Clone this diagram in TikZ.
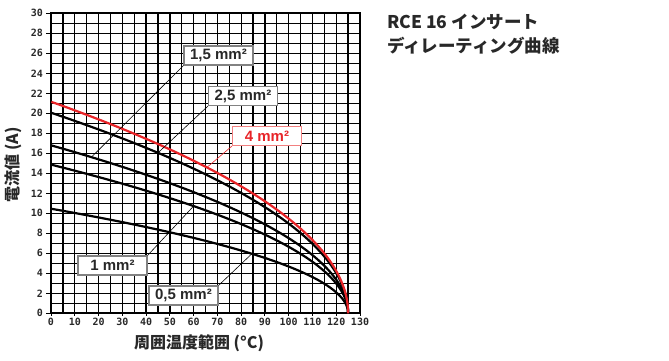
\documentclass[tikz,border=0pt]{standalone}
\usepackage{fontspec}
\setmainfont{Liberation Sans}[BoldFont={Liberation Sans Bold}]
\newfontfamily\jpfont{Noto Sans CJK JP}
\newfontfamily\tickfont{DejaVu Sans Mono}[BoldFont={DejaVu Sans Mono Bold}]
\usetikzlibrary{positioning}
\definecolor{curvered}{RGB}{232,36,40}
\definecolor{boxgray}{RGB}{130,130,130}
\definecolor{boxred}{RGB}{242,128,128}
\definecolor{textgray}{RGB}{40,40,40}
\tikzset{
	gridline/.style={line width=1.3pt},
	curve/.style={line width=2.2pt, line join=round},
	leader/.style={line width=0.6pt},
	sizebox/.style={draw=boxgray, line width=1.2pt, fill=white, minimum width=69pt, minimum height=19pt, inner sep=0pt, font=\bfseries\fontsize{15}{15}\selectfont, text=textgray},
	ticklabel/.style={font=\tickfont\bfseries\fontsize{10}{10}\selectfont, inner sep=0pt, text=textgray},
	axistitle/.style={font=\jpfont\bfseries\fontsize{16}{16}\selectfont, text=textgray},
	titletext/.style={font=\jpfont\bfseries\fontsize{17.5}{17.5}\selectfont, text=textgray, inner sep=0pt, anchor=base west},
}
\begin{document}
\begin{tikzpicture}[x=1pt, y=-1pt]
	\useasboundingbox (0,0) rectangle (669,360);
	\begin{scope}[shift={(51,313.3)}, x=2.377pt, y=10pt]
		\foreach \t in {0,5,...,130}
			\draw[gridline] (\t,0) -- (\t,30);
		\foreach \i in {0,...,30}
			\draw[gridline] (0,\i) -- (130,\i);
		\draw[line width=1.7pt] (0,0) rectangle (130,30);
		\foreach \i in {0,2,...,30} {
			\draw[line width=1pt] (0,\i) -- ++(-5pt,0);
			\node[ticklabel, left=8pt] at (0,\i) {\i};
		}
		\foreach \t in {0,10,...,130} {
			\draw[line width=1pt] (\t,0) -- ++(0,-3pt);
			\node[ticklabel, below=5pt] at (\t,0) {\t};
		}
		\foreach \top in {10.46,14.87,16.8,20.06}
			\draw[curve] plot[variable=\s, domain=0:1, samples=60, smooth] ({125*(1-\s*\s)}, {\top*\s});
		\draw[curve, curvered] plot[variable=\s, domain=0:1, samples=60, smooth] ({125*(1-\s*\s)}, {21.16*\s});
		\coordinate (on15) at (17,{16.8*sqrt(1-17/125)});
		\coordinate (on25) at (45,{20.06*sqrt(1-45/125)});
		\coordinate (on4) at (65.6,{21.16*sqrt(1-65.6/125)});
		\coordinate (on1) at (60,{14.87*sqrt(1-60/125)});
		\coordinate (on05) at (84.5,{10.46*sqrt(1-84.5/125)});
	\end{scope}
	\node[sizebox] (box15) at (218.5,55.5) {1,5 mm²};
	\node[sizebox] (box25) at (243,96) {2,5 mm²};
	\node[sizebox, draw=boxred, text=curvered] (box4) at (267,136) {4 mm²};
	\node[sizebox] (box1) at (112.5,265.5) {1 mm²};
	\node[sizebox] (box05) at (183.5,295.5) {0,5 mm²};
	\draw[leader] (box15.south west) -- (on15);
	\draw[leader] (box25.south west) -- (on25);
	\draw[leader, curvered] (box4.south west) -- (on4);
	\draw[leader] (box1.north east) -- (on1);
	\draw[leader] (box05.north east) -- (on05);
	\node[axistitle] (xtitle) at (199,343) {周囲温度範囲 (°C)};
	\node[axistitle, rotate=90] (ytitle) at (13.5,165) {電流値 (A)};
	\node[titletext] (title1) at (387,28.3) {RCE 16 インサート};
	\node[titletext] (title2) at (387,52) {ディレーティング曲線};
\end{tikzpicture}
\end{document}
